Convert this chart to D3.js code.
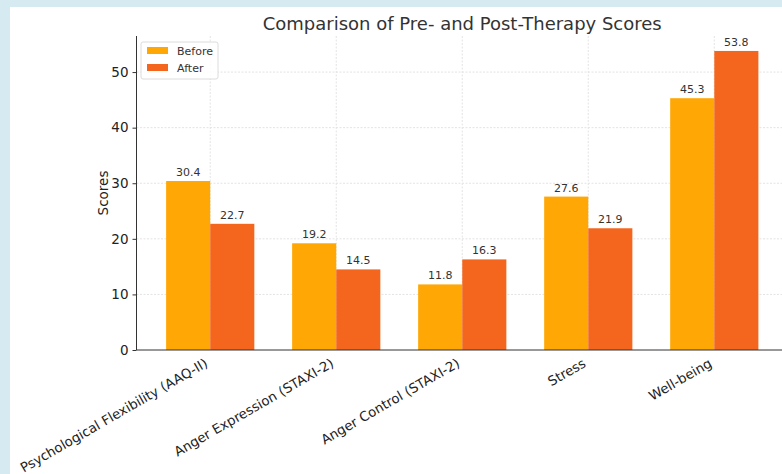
<!DOCTYPE html>
<html>
<head>
<meta charset="utf-8">
<script src="https://cdn.jsdelivr.net/npm/d3@7"></script>
<style>
  html, body { margin: 0; padding: 0; background: #d6ebf1; }
  svg { display: block; font-family: "DejaVu Sans", sans-serif; }
</style>
</head>
<body>
<svg id="chart" width="782" height="474"></svg>
<script>
// Therapy outcome measures, scored before and after treatment
const categories = [
  "Psychological Flexibility (AAQ-II)",
  "Anger Expression (STAXI-2)",
  "Anger Control (STAXI-2)",
  "Stress",
  "Well-being"
];
const beforeScores = [30.4, 19.2, 11.8, 27.6, 45.3];
const afterScores  = [22.7, 14.5, 16.3, 21.9, 53.8];
const seriesNames  = ["Before", "After"];
const yTicks = [0, 10, 20, 30, 40, 50];

const colors = { Before: "#FFA805", After: "#F4661E" };

const svg = d3.select("#chart");
const W = 782, H = 474;

// white canvas panel
svg.append("rect").attr("x", 10).attr("y", 7).attr("width", W - 10).attr("height", H - 7).attr("fill", "#ffffff");

const plot = { left: 136.5, right: 788, top: 36, bottom: 350 };
const barW = 0.35;

// continuous x in category-index units, padded like a bar plot
const x = d3.scaleLinear().domain([-0.585, 4.585]).range([plot.left, plot.right]);
const y = d3.scaleLinear().domain([0, 56.49]).range([plot.bottom, plot.top]);

const g = svg.append("g");

// grid
g.append("g").selectAll("line").data(yTicks.slice(1)).join("line")
  .attr("x1", plot.left).attr("x2", plot.right)
  .attr("y1", d => y(d)).attr("y2", d => y(d))
  .attr("stroke", "#e3e3e3").attr("stroke-width", 1).attr("stroke-dasharray", "2,1.5");
g.append("g").selectAll("line").data(categories).join("line")
  .attr("x1", (d, i) => x(i)).attr("x2", (d, i) => x(i))
  .attr("y1", plot.top).attr("y2", plot.bottom)
  .attr("stroke", "#e3e3e3").attr("stroke-width", 1).attr("stroke-dasharray", "2,1.5");

// bars
const series = [
  { name: "Before", values: beforeScores, offset: -barW / 2 },
  { name: "After", values: afterScores, offset: barW / 2 }
];
series.forEach(s => {
  const sg = g.append("g");
  sg.selectAll("rect").data(s.values).join("rect")
    .attr("x", (d, i) => x(i + s.offset - barW / 2))
    .attr("width", x(barW) - x(0))
    .attr("y", d => y(d))
    .attr("height", d => y(0) - y(d))
    .attr("fill", colors[s.name]);
  sg.selectAll("text").data(s.values).join("text")
    .attr("x", (d, i) => x(i + s.offset))
    .attr("y", d => y(d) - 5)
    .attr("text-anchor", "middle")
    .attr("font-size", 11)
    .attr("fill", "#333")
    .text(d => d.toFixed(1));
});

// y axis
const yAxis = d3.axisLeft(y).tickValues(yTicks).tickSize(4).tickPadding(4);
const ya = g.append("g").attr("transform", `translate(${plot.left},0)`).call(yAxis);
ya.select(".domain").attr("stroke", "#333").attr("stroke-width", 1).attr("d", `M-0,${plot.bottom}V${plot.top}`);
ya.selectAll(".tick line").attr("stroke", "#333");
ya.selectAll(".tick text").attr("font-size", 13.5).attr("fill", "#222").attr("font-family", "DejaVu Sans, sans-serif");

// x axis (no tick marks, rotated labels)
const xAxis = d3.axisBottom(x).tickValues(d3.range(categories.length)).tickSize(0).tickFormat(i => categories[i]);
const xa = g.append("g").attr("transform", `translate(0,${plot.bottom})`).call(xAxis);
xa.select(".domain").attr("stroke", "#333").attr("d", `M${plot.left},0H${plot.right}`);
xa.selectAll(".tick text")
  .attr("font-size", 13.3).attr("fill", "#222").attr("font-family", "DejaVu Sans, sans-serif")
  .attr("text-anchor", "end")
  .attr("y", 0).attr("dy", 0)
  .attr("transform", "translate(-2,16) rotate(-30)");

// axis title
svg.append("text")
  .attr("transform", `translate(108,${(plot.top + plot.bottom) / 2}) rotate(-90)`)
  .attr("text-anchor", "middle")
  .attr("font-size", 13.5).attr("fill", "#222")
  .text("Scores");

// chart title
svg.append("text")
  .attr("x", (plot.left + plot.right) / 2).attr("y", 30)
  .attr("text-anchor", "middle")
  .attr("font-size", 18).attr("fill", "#333")
  .text("Comparison of Pre- and Post-Therapy Scores");

// legend
const lg = svg.append("g").attr("transform", "translate(141,42)");
lg.append("rect").attr("width", 77).attr("height", 37).attr("rx", 2)
  .attr("fill", "#fff").attr("fill-opacity", 0.85).attr("stroke", "#dcdcdc");
seriesNames.forEach((n, i) => {
  lg.append("rect").attr("x", 6).attr("y", 5 + i * 17).attr("width", 21).attr("height", 7).attr("fill", colors[n]);
  lg.append("text").attr("x", 36).attr("y", 12.5 + i * 17).attr("font-size", 11).attr("fill", "#333").text(n);
});
</script>
</body>
</html>
